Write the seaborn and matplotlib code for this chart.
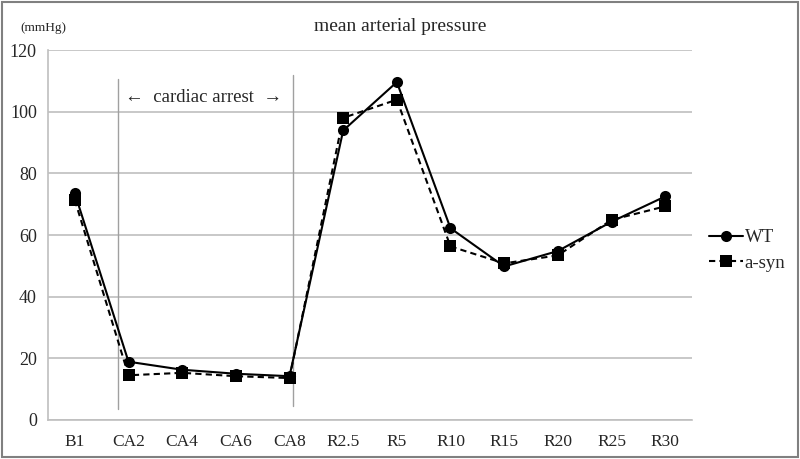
import matplotlib
matplotlib.use("Agg")
import matplotlib.pyplot as plt
import seaborn as sns
import pandas as pd
from matplotlib.patches import Rectangle

categories = ["B1", "CA2", "CA4", "CA6", "CA8", "R2.5", "R5", "R10", "R15", "R20", "R25", "R30"]
wt = [73.5, 18.9, 16.3, 15.0, 14.2, 93.9, 109.6, 62.2, 49.8, 54.8, 64.3, 72.5]
asyn = [71.3, 14.5, 15.3, 14.2, 13.6, 98.0, 103.9, 56.3, 50.8, 53.4, 64.9, 69.3]
series_names = ["WT", "a-syn"]
yticks = [0, 20, 40, 60, 80, 100, 120]

df = pd.DataFrame({
    "time": categories * 2,
    "pos": list(range(len(categories))) * 2,
    "value": wt + asyn,
    "group": [series_names[0]] * len(categories) + [series_names[1]] * len(categories),
})

sns.set_theme(style="white")
plt.rcParams["font.family"] = ["Liberation Serif", "DejaVu Serif"]

fig = plt.figure(figsize=(8.0, 4.59), dpi=100)
ax = fig.add_axes([0.06, 0.085, 0.805, 0.806])

sns.lineplot(data=df, x="pos", y="value", hue="group", style="group",
             palette={"WT": "black", "a-syn": "black"},
             markers={"WT": "o", "a-syn": "s"},
             dashes={"WT": "", "a-syn": (3, 2)},
             markersize=8, linewidth=1.5, markeredgewidth=0,
             sort=False, ax=ax, zorder=3)

ax.set_xlim(-0.5, len(categories) - 0.5)
ax.set_ylim(0, 120)
ax.set_xticks(range(len(categories)))
ax.set_xticklabels(categories, fontsize=12.5)
ax.set_yticks(yticks)
ax.set_yticklabels([str(v) for v in yticks], fontsize=13)
ax.tick_params(axis="x", length=0, pad=10)
ax.tick_params(axis="y", length=0, pad=8)
ax.set_xlabel("")
ax.set_ylabel("")
ax.grid(axis="y", color="#bfbfbf", linewidth=1.2)
ax.grid(axis="x", visible=False)
for s in ["top", "right"]:
    ax.spines[s].set_visible(False)
for s in ["left", "bottom"]:
    ax.spines[s].set_color("#bfbfbf")
    ax.spines[s].set_linewidth(1.2)

# cardiac arrest markers
ax.plot([0.80, 0.80], [3.6, 110.7], color="#a0a0a0", linewidth=1, zorder=1)
ax.plot([4.07, 4.07], [4.5, 112.0], color="#a0a0a0", linewidth=1, zorder=1)
ax.text(2.4, 104.5, "←  cardiac arrest  →", ha="center", va="center", fontsize=13.5)

ax.set_title("mean arterial pressure", fontsize=14, pad=14, x=0.547)
fig.text(0.025, 0.938, "(mmHg)", fontsize=9.5, ha="left", va="center")

leg = ax.legend(loc="center left", bbox_to_anchor=(1.0, 0.458), frameon=False,
                fontsize=13.5, handlelength=1.8, handletextpad=0.1, labelspacing=0.45)

fig.patches.append(Rectangle((0.003, 0.005), 0.994, 0.99, transform=fig.transFigure,
                             fill=False, edgecolor="#808080", linewidth=1.5))

fig.savefig("out.png", dpi=100)
